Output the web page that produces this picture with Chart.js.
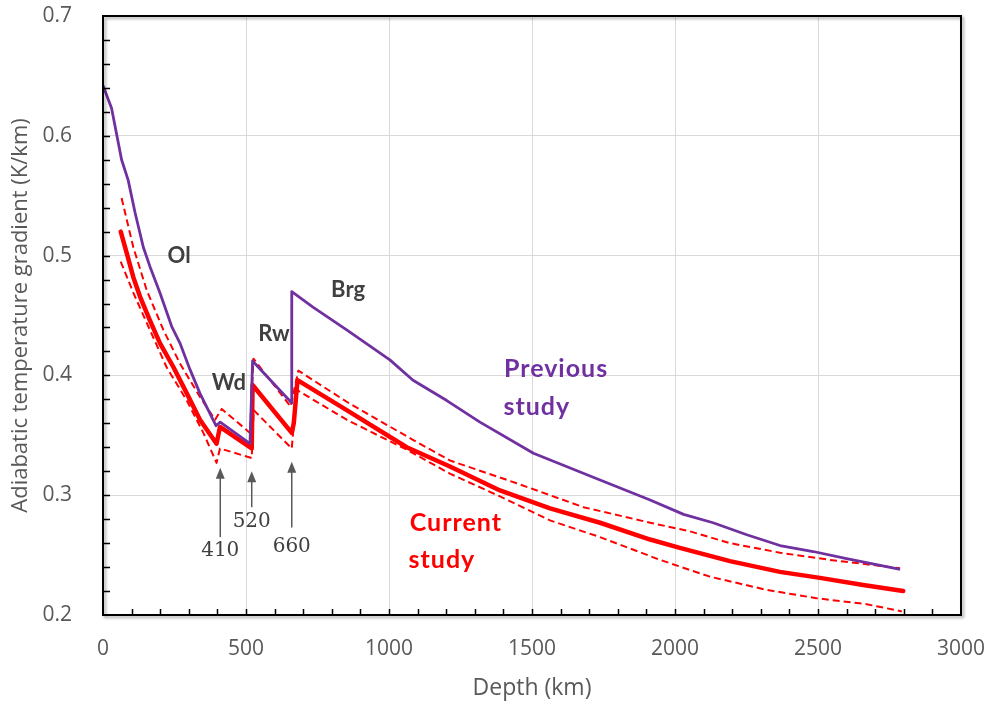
<!DOCTYPE html>
<html>
<head>
<meta charset="utf-8">
<script src="https://cdn.jsdelivr.net/npm/chart.js@4.4.0/dist/chart.umd.min.js"></script>
<style>
  body { margin: 0; background: #fff; }
  canvas { display: block; }
</style>
</head>
<body>
<canvas id="gradChart" width="993" height="704"></canvas>
<script>
// previous study
const prevDepth = [0, 30, 65, 88, 112, 141, 164, 199, 240, 269, 304, 339, 395, 410, 514, 523, 660, 660, 734, 852, 1003, 1084, 1202, 1318, 1505, 1714, 1913, 2030, 2133, 2251, 2367, 2483, 2600, 2787];
const prevGrad = [0.642, 0.623, 0.580, 0.563, 0.536, 0.507, 0.491, 0.469, 0.441, 0.427, 0.405, 0.385, 0.358, 0.361, 0.343, 0.412, 0.377, 0.470, 0.457, 0.438, 0.413, 0.396, 0.379, 0.361, 0.335, 0.315, 0.296, 0.284, 0.277, 0.267, 0.258, 0.253, 0.247, 0.238];

// current study, central values
const curDepth = [62, 83, 106, 129, 164, 199, 246, 293, 339, 397, 409, 520, 523, 660, 667, 680, 852, 1062, 1213, 1388, 1563, 1738, 1913, 2017, 2192, 2367, 2507, 2658, 2798];
const curGrad = [0.520, 0.502, 0.482, 0.466, 0.446, 0.427, 0.407, 0.385, 0.363, 0.343, 0.357, 0.339, 0.392, 0.352, 0.360, 0.396, 0.371, 0.340, 0.324, 0.304, 0.289, 0.277, 0.263, 0.256, 0.245, 0.236, 0.231, 0.225, 0.220];

// current study, upper bound
const upperDepth = [65, 106, 153, 211, 269, 339, 392, 415, 514, 526, 656, 683, 852, 1085, 1213, 1446, 1680, 1913, 2050, 2192, 2367, 2542, 2787];
const upperGrad = [0.548, 0.507, 0.471, 0.438, 0.410, 0.382, 0.363, 0.372, 0.352, 0.414, 0.374, 0.404, 0.378, 0.346, 0.329, 0.310, 0.290, 0.277, 0.270, 0.260, 0.252, 0.246, 0.239];

// current study, lower bound
const lowerDepth = [62, 106, 164, 222, 293, 351, 397, 409, 520, 527, 660, 677, 852, 1062, 1213, 1388, 1563, 1738, 1948, 2122, 2320, 2495, 2670, 2793];
const lowerGrad = [0.495, 0.469, 0.438, 0.407, 0.379, 0.352, 0.327, 0.339, 0.331, 0.371, 0.339, 0.388, 0.363, 0.338, 0.318, 0.299, 0.279, 0.265, 0.246, 0.232, 0.221, 0.214, 0.209, 0.203];

// axis ranges and tick steps
const depthRange = [0, 3000];
const gradRange = [0.2, 0.7];
const depthStep = 500, depthMinor = 100;
const gradStep = 0.1, gradMinor = 0.02;

// transition depths with arrows underneath
const transitions = [410, 520, 660];
const arrowTip = [0.323, 0.320, 0.328];
const arrowTail = [0.265, 0.290, 0.273];
const arrowLabelY = [0.254, 0.278, 0.257];

// text labels on the plot
const notes = [
  { text: "Ol", x: 266, y: 0.500, color: "#404040", size: 22, spacing: 0 },
  { text: "Wd", x: 440, y: 0.394, color: "#404040", size: 22, spacing: 0 },
  { text: "Rw", x: 598, y: 0.435, color: "#404040", size: 22, spacing: 0 },
  { text: "Brg", x: 857, y: 0.471, color: "#404040", size: 22, spacing: 0 },
  { text: "Previous", x: 1584, y: 0.405, color: "#7030A0", size: 25, spacing: 1 },
  { text: "study", x: 1517, y: 0.374, color: "#7030A0", size: 25, spacing: 1 },
  { text: "Current", x: 1234, y: 0.277, color: "#FF0000", size: 25, spacing: 1 },
  { text: "study", x: 1185, y: 0.246, color: "#FF0000", size: 25, spacing: 1 },
];

const toPoints = (xs, ys) => xs.map((x, i) => ({ x, y: ys[i] }));

const labelFont = "Open Sans";
const gray = "#595959";

// fixed axis box sizes, no overflow padding from end labels
const fixBox = (w, h) => (s) => {
  if (w) s.width = w;
  if (h) s.height = h;
  s.paddingLeft = s.paddingRight = s.paddingTop = s.paddingBottom = 0;
};

// frame, inward ticks, arrows and text
const decorPlugin = {
  id: "decor",
  afterDatasetsDraw(chart) {
    const { ctx, chartArea: a, scales } = chart;
    const xs = scales.x, ys = scales.y;
    ctx.save();

    // arrows
    ctx.strokeStyle = gray;
    ctx.lineWidth = 1.5;
    ctx.textAlign = "center";
    ctx.textBaseline = "middle";
    transitions.forEach((d, i) => {
      const px = xs.getPixelForValue(d);
      const tip = ys.getPixelForValue(arrowTip[i]);
      const tail = ys.getPixelForValue(arrowTail[i]);
      ctx.beginPath();
      ctx.moveTo(px, tail);
      ctx.lineTo(px, tip + 8);
      ctx.stroke();
      ctx.fillStyle = gray;
      ctx.beginPath();
      ctx.moveTo(px, tip);
      ctx.lineTo(px - 4.5, tip + 11);
      ctx.lineTo(px + 4.5, tip + 11);
      ctx.closePath();
      ctx.fill();
      ctx.font = "20px 'DejaVu Serif'";
      ctx.fillStyle = "#404040";
      ctx.fillText(String(d), px, ys.getPixelForValue(arrowLabelY[i]));
    });

    // text labels
    notes.forEach((n) => {
      ctx.font = `bold ${n.size}px Lato`;
      ctx.letterSpacing = n.spacing + "px";
      ctx.fillStyle = n.color;
      ctx.fillText(n.text, xs.getPixelForValue(n.x), ys.getPixelForValue(n.y));
    });
    ctx.letterSpacing = "0px";

    // frame with a soft shadow
    ctx.shadowColor = "rgba(0,0,0,0.35)";
    ctx.shadowBlur = 3;
    ctx.shadowOffsetX = 2;
    ctx.shadowOffsetY = 2;
    ctx.strokeStyle = "#000";
    ctx.lineWidth = 2;
    ctx.strokeRect(a.left, a.top, a.right - a.left, a.bottom - a.top);
    ctx.shadowColor = "transparent";

    // inward tick marks
    ctx.lineWidth = 1.5;
    ctx.beginPath();
    for (let v = depthRange[0] + depthMinor; v < depthRange[1]; v += depthMinor) {
      const px = Math.round(xs.getPixelForValue(v)) + 0.5;
      ctx.moveTo(px, a.bottom);
      ctx.lineTo(px, a.bottom - 6);
    }
    for (let k = 1; k < Math.round((gradRange[1] - gradRange[0]) / gradMinor); k++) {
      const py = Math.round(ys.getPixelForValue(gradRange[0] + k * gradMinor)) + 0.5;
      ctx.moveTo(a.left, py);
      ctx.lineTo(a.left + 7, py);
    }
    ctx.stroke();
    ctx.restore();
  },
};

new Chart(document.getElementById("gradChart"), {
  type: "line",
  data: {
    datasets: [
      {
        label: "Previous study",
        data: toPoints(prevDepth, prevGrad),
        borderColor: "#7030A0",
        borderWidth: 2.8,
      },
      {
        label: "Current study",
        data: toPoints(curDepth, curGrad),
        borderColor: "#FF0000",
        borderWidth: 4.5,
        borderCapStyle: "round",
      },
      {
        label: "Upper bound",
        data: toPoints(upperDepth, upperGrad),
        borderColor: "#FF0000",
        borderWidth: 2,
        borderDash: [7, 4],
      },
      {
        label: "Lower bound",
        data: toPoints(lowerDepth, lowerGrad),
        borderColor: "#FF0000",
        borderWidth: 2,
        borderDash: [7, 4],
      },
    ],
  },
  options: {
    responsive: false,
    animation: false,
    devicePixelRatio: 1,
    layout: { padding: { top: 16, right: 32, left: 0, bottom: 0 } },
    elements: {
      point: { radius: 0 },
      line: { tension: 0, borderJoinStyle: "round" },
    },
    plugins: {
      legend: { display: false },
      tooltip: { enabled: false },
    },
    scales: {
      x: {
        type: "linear",
        min: depthRange[0],
        max: depthRange[1],
        afterFit: fixBox(0, 89),
        ticks: {
          stepSize: depthStep,
          color: gray,
          padding: 21,
          font: { family: labelFont, size: 21 },
          callback: (v) => String(v),
        },
        grid: { color: "#D9D9D9", drawTicks: false },
        border: { display: false },
        title: {
          display: true,
          text: "Depth (km)",
          color: gray,
          font: { family: labelFont, size: 23 },
          padding: { top: 0, bottom: 2 },
        },
      },
      y: {
        min: gradRange[0],
        max: gradRange[1],
        afterFit: fixBox(103, 0),
        ticks: {
          stepSize: gradStep,
          color: gray,
          padding: 31,
          font: { family: labelFont, size: 21 },
          callback: (v) => v.toFixed(1),
        },
        grid: { color: "#D9D9D9", drawTicks: false },
        border: { display: false },
        title: {
          display: true,
          text: "Adiabatic temperature gradient (K/km)",
          color: gray,
          font: { family: labelFont, size: 22 },
          padding: { top: 8, bottom: 0 },
        },
      },
    },
  },
  plugins: [decorPlugin],
});
</script>
</body>
</html>
